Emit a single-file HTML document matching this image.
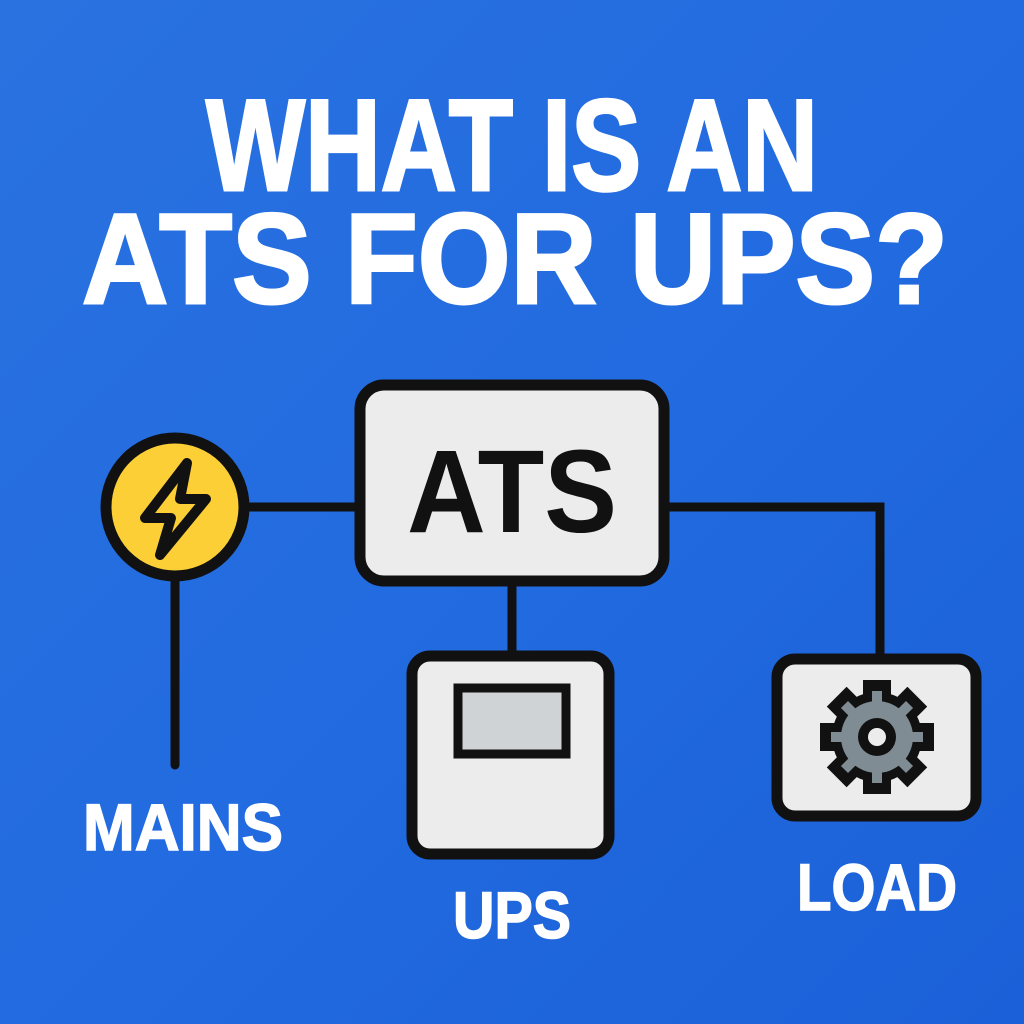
<!DOCTYPE html>
<html><head><meta charset="utf-8"><style>
html,body{margin:0;padding:0;width:1024px;height:1024px;overflow:hidden}
</style></head><body>
<svg width="1024" height="1024" viewBox="0 0 1024 1024" xmlns="http://www.w3.org/2000/svg">
<defs>
<linearGradient id="bg" x1="0" y1="0" x2="1" y2="1">
<stop offset="0" stop-color="#2a72e0"/><stop offset="0.5" stop-color="#226be0"/><stop offset="1" stop-color="#1b60d8"/>
</linearGradient>
</defs>
<rect width="1024" height="1024" fill="url(#bg)"/>
<g font-family="Liberation Sans, sans-serif" font-weight="bold" fill="#fff" stroke="#fff" stroke-width="3" text-anchor="middle">
<text x="512" y="190" font-size="130" textLength="612" lengthAdjust="spacingAndGlyphs">WHAT IS AN</text>
<text x="515" y="303" font-size="128" textLength="866" lengthAdjust="spacingAndGlyphs">ATS FOR UPS?</text>
</g>
<g font-family="Liberation Sans, sans-serif" font-weight="bold" fill="#fff" stroke="#fff" stroke-width="1.5" text-anchor="middle">
<text x="183" y="850" font-size="66" textLength="200" lengthAdjust="spacingAndGlyphs">MAINS</text>
<text x="512" y="938" font-size="66" textLength="118" lengthAdjust="spacingAndGlyphs">UPS</text>
<text x="877" y="910" font-size="66" textLength="160" lengthAdjust="spacingAndGlyphs">LOAD</text>
</g>
<g stroke="#111" stroke-width="9" fill="none" stroke-linecap="round">
<line x1="240" y1="507" x2="360" y2="507"/>
<line x1="175" y1="575" x2="175" y2="765"/>
<polyline points="665,507 880,507 880,660" stroke-linecap="butt"/>
<line x1="512" y1="580" x2="512" y2="656"/>
</g>
<circle cx="175" cy="507" r="69" fill="#fbcf35" stroke="#111" stroke-width="11"/>
<path d="M187 463 L145 518 L171 518 L160 555 L206 499 L180 499 Z" fill="none" stroke="#111" stroke-width="10" stroke-linejoin="round"/>
<rect x="360" y="385" width="304" height="196" rx="24" fill="#ececec" stroke="#111" stroke-width="11"/>
<text x="512" y="532" font-family="Liberation Sans, sans-serif" font-weight="bold" font-size="118" text-anchor="middle" fill="#111" textLength="210" lengthAdjust="spacingAndGlyphs">ATS</text>
<rect x="412" y="656" width="197" height="198" rx="18" fill="#ececec" stroke="#111" stroke-width="11"/>
<rect x="458" y="688" width="108" height="66" fill="#cfd3d6" stroke="#111" stroke-width="9"/>
<rect x="777" y="659" width="199" height="157" rx="18" fill="#ececec" stroke="#111" stroke-width="11"/>
<g transform="translate(877,737)">
<g fill="#111">
<circle r="45"/>
<g id="tb"><rect x="-14" y="-57" width="28" height="30"/></g>
<use href="#tb" transform="rotate(45)"/><use href="#tb" transform="rotate(90)"/><use href="#tb" transform="rotate(135)"/>
<use href="#tb" transform="rotate(180)"/><use href="#tb" transform="rotate(225)"/><use href="#tb" transform="rotate(270)"/><use href="#tb" transform="rotate(315)"/>
</g>
<g fill="#7f8c93">
<circle r="36"/>
<g id="tg"><rect x="-5" y="-46" width="10" height="14"/></g>
<use href="#tg" transform="rotate(45)"/><use href="#tg" transform="rotate(90)"/><use href="#tg" transform="rotate(135)"/>
<use href="#tg" transform="rotate(180)"/><use href="#tg" transform="rotate(225)"/><use href="#tg" transform="rotate(270)"/><use href="#tg" transform="rotate(315)"/>
</g>
<circle r="19" fill="#111"/>
<circle r="9" fill="#ececec"/>
</g>
</svg>
</body></html>
